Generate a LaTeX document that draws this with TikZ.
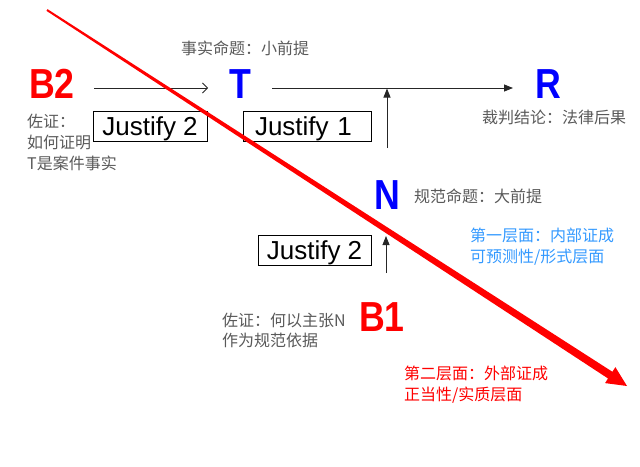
\documentclass[tikz,border=0pt]{standalone}
\usepackage{fontspec}
\setmainfont{Liberation Sans}
\newfontfamily\cjk{Noto Sans CJK SC}
\usetikzlibrary{arrows.meta,calc}
\definecolor{txtgray}{RGB}{89,89,89}
\definecolor{lvlblue}{RGB}{51,153,255}
\definecolor{sigred}{RGB}{255,0,0}
\definecolor{sigblue}{RGB}{0,0,255}
\begin{document}
\begin{tikzpicture}[x=1pt,y=-1pt,
  big/.style={anchor=base,inner sep=0pt,font=\fontsize{42}{42}\selectfont\bfseries},
  lbl/.style={anchor=north west,inner sep=0pt,align=left,font=\cjk\fontsize{16}{21}\selectfont,text=txtgray},
  jbox/.style={draw=black,line width=0.8pt,inner xsep=0pt,inner ysep=0pt,text height=24pt,text depth=6pt,font=\fontsize{26}{26}\selectfont},
  conn/.style={line width=0.8pt,draw=black!85}]
\useasboundingbox (0,0) rectangle (640,466);

% big letters
\node[big,text=sigred]  (B2) at (52,98)  {\scalebox{0.85}[1]{B2}};
\node[big,text=sigblue] (T)  at (240,98) {\scalebox{0.85}[1]{T}};
\node[big,text=sigblue] (R)  at (548,98) {\scalebox{0.85}[1]{R}};
\node[big,text=sigblue] (N)  at (387,209) {\scalebox{0.85}[1]{N}};
\node[big,text=sigred]  (B1) at (382,331) {\scalebox{0.85}[1]{B1}};

% justify boxes
\node[jbox,minimum width=114pt] (J2a) at (150,126) {Justify 2};
\node[jbox,text width=104pt,inner xsep=12pt,align=left] (J1) at (307,126) {Justify 1};
\node[jbox,minimum width=113pt] (J2b) at (314.5,250) {Justify 2};

% labels
\node[lbl] (lT)  at (181,41)  {事实命题：小前提};
\node[lbl] (lR)  at (482,110) {裁判结论：法律后果};
\node[lbl] (lB2) at (27,114)  {佐证：\\如何证明\\T是案件事实};
\node[lbl] (lN)  at (414,189) {规范命题：大前提};
\node[lbl,text=lvlblue,font=\cjk\fontsize{16}{20.5}\selectfont] (l1) at (470,228) {第一层面：内部证成\\可预测性/形式层面};
\node[lbl,font=\cjk\fontsize{16}{20}\selectfont] (lB1) at (222,313) {佐证：何以主张N\\作为规范依据};
\node[lbl,text=sigred] (l2) at (404,366) {第二层面：外部证成\\正当性/实质层面};

% connectors
\draw[conn,-{Straight Barb[length=5pt,width=10pt,line width=0.8pt]}]
  ($(B2.base)+(42,-10)$) -- ($(T.base)+(-32,-10)$);
\draw[conn,-{Triangle[length=9pt,width=7pt]}]
  ($(T.base)+(32,-10)$) -- ($(R.base)+(-35,-10)$);
\draw[conn,-{Triangle[length=9pt,width=7pt]}]
  ($(N.base)+(0,-61)$) -- ($(N.base)+(0,-120.5)$);
\draw[conn,-{Triangle[length=9pt,width=7pt]}]
  ($(N.base)+(-1,64)$) -- ($(N.base)+(-1,27)$);

% red diagonal arrow
\coordinate (dA) at (47,10);
\coordinate (dT) at (627,386);
\coordinate (dH) at ($(dT)!20pt!(dA)$);
\fill[sigred] ($(dA)!1pt!90:(dT)$) -- ($(dH)!4pt!90:(dT)$) -- ($(dH)!9.5pt!90:(dT)$) -- (dT)
  -- ($(dH)!9.5pt!-90:(dT)$) -- ($(dH)!4pt!-90:(dT)$) -- ($(dA)!1pt!-90:(dT)$) -- cycle;
\end{tikzpicture}
\end{document}
